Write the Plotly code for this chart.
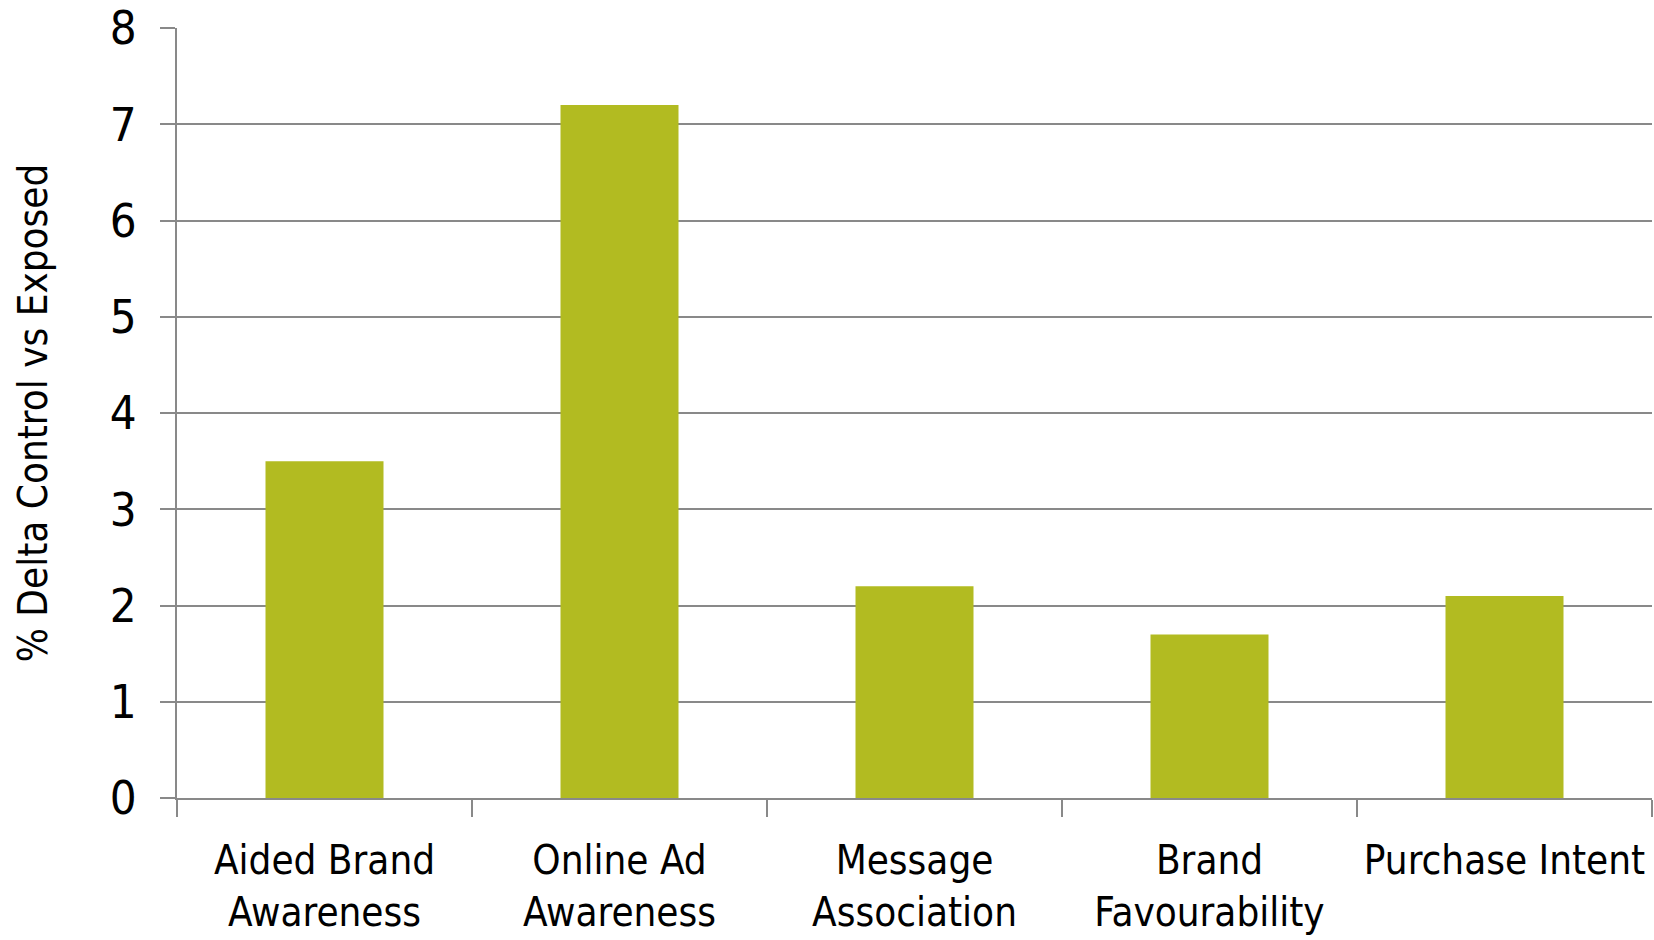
import plotly.graph_objects as go

categories = [
    "Aided Brand<br>Awareness",
    "Online Ad<br>Awareness",
    "Message<br>Association",
    "Brand<br>Favourability",
    "Purchase Intent",
]
delta_values = [3.5, 7.2, 2.2, 1.7, 2.1]
y_tick_values = [0, 1, 2, 3, 4, 5, 6, 7, 8]

FONT = "DejaVu Sans Condensed, Liberation Sans Narrow, Arial Narrow, Liberation Sans, sans-serif"
GRID = "#898989"
BAR = "#B2BB21"

fig = go.Figure(
    go.Bar(
        x=categories,
        y=delta_values,
        marker=dict(color=BAR, line=dict(width=0)),
    )
)

fig.update_layout(
    width=1654,
    height=940,
    margin=dict(l=177, r=2, t=28, b=142),
    paper_bgcolor="white",
    plot_bgcolor="white",
    bargap=0.6,
    showlegend=False,
    font=dict(family=FONT, color="black"),
)

fig.update_xaxes(
    type="category",
    tickson="boundaries",
    ticks="outside",
    ticklen=17,
    tickwidth=2,
    tickcolor=GRID,
    tickangle=0,
    ticklabelstandoff=26,
    showline=True,
    linecolor=GRID,
    linewidth=2,
    showgrid=False,
    tickfont=dict(size=40, family=FONT, color="black"),
    automargin=False,
)

fig.update_yaxes(
    range=[0, 8],
    tickvals=y_tick_values,
    ticks="outside",
    ticklen=15,
    tickwidth=2,
    tickcolor=GRID,
    showline=True,
    linecolor=GRID,
    linewidth=2,
    showgrid=True,
    gridcolor=GRID,
    gridwidth=2,
    zeroline=False,
    ticklabelstandoff=14,
    tickfont=dict(size=47, family=FONT, color="black"),
    title=dict(
        text="% Delta Control vs Exposed",
        font=dict(size=40, family=FONT, color="black"),
        standoff=50,
    ),
    automargin=False,
)

fig.write_html("out.html")
